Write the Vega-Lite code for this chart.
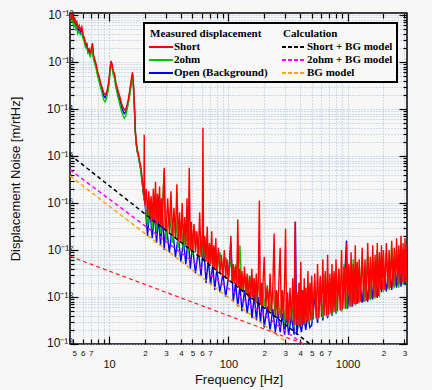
{
  "$schema": "https://vega.github.io/schema/vega-lite/v6.json",
  "width": 337,
  "height": 331,
  "autosize": "none",
  "padding": {"left": 70, "top": 13, "right": 25, "bottom": 46},
  "background": "#f7f7f7",
  "config": {
    "view": {"stroke": "#000000", "strokeWidth": 1.5},
    "axis": {"labelFont": "Liberation Sans", "titleFont": "Liberation Sans", "labelColor": "#111111", "titleColor": "#111111", "titleFontWeight": "normal", "domain": false, "tickColor": "#000000", "tickWidth": 1.2, "gridColor": "#a8bedb", "gridDash": [1, 2], "gridWidth": 1, "labelOverlap": false, "labelFlush": false}
  },
  "datasets": {
    "short": [
      {"f":4.75,"v":1.07e-12},{"f":4.85,"v":7.94e-13},{"f":4.95,"v":1.05e-12},{"f":5.05,"v":7.08e-13},{"f":5.15,"v":8.91e-13},{"f":5.25,"v":6.31e-13},{"f":5.35,"v":7.59e-13},{"f":5.45,"v":5.01e-13},{"f":5.6,"v":6.03e-13},{"f":5.75,"v":4.79e-13},{"f":5.9,"v":5.62e-13},{"f":6.05,"v":3.8e-13},{"f":6.2,"v":3.31e-13},{"f":6.35,"v":2.4e-13},{"f":6.5,"v":2.51e-13},{"f":6.65,"v":1.78e-13},{"f":6.8,"v":1.91e-13},{"f":6.95,"v":1.51e-13},{"f":7.1,"v":2.0e-13},{"f":7.25,"v":2.51e-13},{"f":7.4,"v":1.41e-13},{"f":7.6,"v":1.12e-13},{"f":7.8,"v":8.91e-14},{"f":8.0,"v":6.31e-14},{"f":8.25,"v":5.01e-14},{"f":8.5,"v":3.55e-14},{"f":8.75,"v":2.82e-14},{"f":9.0,"v":2.24e-14},{"f":9.25,"v":2.0e-14},{"f":9.5,"v":2.24e-14},{"f":9.75,"v":2.82e-14},{"f":10.0,"v":4.47e-14},{"f":10.2,"v":7.94e-14},{"f":10.4,"v":1.05e-13},{"f":10.6,"v":8.91e-14},{"f":10.85,"v":6.31e-14},{"f":11.1,"v":5.62e-14},{"f":11.4,"v":3.55e-14},{"f":11.7,"v":2.82e-14},{"f":12.0,"v":2.24e-14},{"f":12.35,"v":1.78e-14},{"f":12.7,"v":1.32e-14},{"f":13.0,"v":1.12e-14},{"f":13.4,"v":9.55e-15},{"f":13.8,"v":1.0e-14},{"f":14.2,"v":1.26e-14},{"f":14.6,"v":1.78e-14},{"f":15.0,"v":2.82e-14},{"f":15.4,"v":4.47e-14},{"f":15.7,"v":6.03e-14},{"f":16.0,"v":3.55e-14},{"f":16.3,"v":1.26e-14},{"f":16.6,"v":3.55e-15},{"f":16.9,"v":2.0e-15},{"f":17.2,"v":1.41e-15},{"f":17.6,"v":1.12e-15},{"f":18.0,"v":7.94e-16},{"f":18.4,"v":6.31e-16},{"f":18.8,"v":3.98e-16},{"f":19.2,"v":2.24e-16},{"f":19.6,"v":1.41e-16},{"f":19.7,"v":2.82e-15},{"f":19.85,"v":1.26e-16},
      {"f":20,"v":8.91e-17},{"f":20.5,"v":2.0e-16},{"f":21,"v":5.01e-17},{"f":21.5,"v":1.78e-16},{"f":22,"v":4.47e-17},{"f":22.5,"v":1.41e-16},{"f":23,"v":3.98e-17},{"f":23.5,"v":2.0e-16},{"f":24,"v":4.47e-17},{"f":24.5,"v":2.82e-16},{"f":25,"v":3.55e-17},{"f":25.5,"v":1.58e-16},{"f":26,"v":3.98e-17},{"f":26.5,"v":2.24e-16},{"f":27,"v":3.16e-17},{"f":27.5,"v":1.26e-16},{"f":28,"v":3.16e-17},{"f":28.5,"v":1.78e-16},{"f":29,"v":5.62e-16},{"f":29.5,"v":2.82e-17},
      {"f":30,"v":2.51e-17},{"f":31,"v":1.26e-16},{"f":32,"v":2.24e-17},{"f":33,"v":1.78e-16},{"f":34,"v":2.0e-17},{"f":35,"v":7.94e-17},{"f":36,"v":1.78e-17},{"f":37,"v":2.51e-16},{"f":38,"v":1.58e-17},{"f":39,"v":6.31e-17},{"f":40,"v":1.41e-17},{"f":41,"v":1.0e-16},{"f":42,"v":1.26e-17},{"f":43,"v":5.01e-17},{"f":44,"v":1.26e-17},{"f":45,"v":1.26e-16},{"f":46,"v":1.12e-17},{"f":47,"v":5.62e-16},{"f":48,"v":1.0e-17},{"f":49,"v":3.98e-17},
      {"f":50,"v":1.0e-17},{"f":51.5,"v":3.55e-17},{"f":53,"v":8.91e-18},{"f":54.5,"v":2.51e-17},{"f":56,"v":7.94e-18},{"f":57.5,"v":6.31e-17},{"f":59,"v":7.08e-18},{"f":60.5,"v":1.58e-17},{"f":61.2,"v":3.98e-15},{"f":62,"v":6.31e-18},{"f":63.5,"v":2.0e-17},{"f":65,"v":5.62e-18},{"f":66.5,"v":3.16e-17},{"f":68,"v":5.01e-18},{"f":69.5,"v":1.41e-17},{"f":71,"v":5.01e-18},{"f":72.5,"v":2.51e-17},{"f":74,"v":4.47e-18},{"f":75.5,"v":1.26e-17},{"f":77,"v":3.98e-18},{"f":78.5,"v":1.78e-17},
      {"f":80,"v":3.55e-18},{"f":82.5,"v":1.12e-17},{"f":85,"v":3.16e-18},{"f":87.5,"v":7.94e-18},{"f":90,"v":2.82e-18},{"f":92.5,"v":1.0e-17},{"f":95,"v":2.51e-18},{"f":97.5,"v":6.31e-18},{"f":100,"v":2.24e-18},{"f":102.5,"v":5.62e-18},{"f":105,"v":2.0e-17},{"f":107.5,"v":2.0e-18},{"f":110,"v":5.01e-18},{"f":112.5,"v":1.91e-18},{"f":115,"v":4.47e-18},{"f":117.5,"v":1.78e-18},{"f":120,"v":4.47e-17},{"f":122.5,"v":1.58e-18},{"f":125,"v":3.98e-18},{"f":127.5,"v":1.41e-18},
      {"f":130,"v":3.55e-18},{"f":133.5,"v":1.26e-18},{"f":136.5,"v":4.47e-18},{"f":140,"v":1.12e-18},{"f":143.5,"v":3.16e-18},{"f":147,"v":1.0e-18},{"f":150.5,"v":2.82e-18},{"f":154,"v":1.0e-18},{"f":157.5,"v":3.98e-18},{"f":161,"v":8.91e-19},{"f":164.5,"v":2.51e-18},{"f":168,"v":7.94e-19},{"f":171.5,"v":3.16e-18},{"f":175,"v":7.08e-19},{"f":178.5,"v":2.24e-18},{"f":182,"v":1.12e-16},{"f":185.5,"v":6.76e-19},{"f":189,"v":2.0e-18},{"f":192.5,"v":6.31e-19},{"f":196,"v":2.51e-18},
      {"f":200,"v":7.08e-18},{"f":206,"v":5.62e-19},{"f":212,"v":1.78e-18},{"f":218,"v":5.01e-19},{"f":224,"v":3.16e-18},{"f":230,"v":4.47e-19},{"f":236,"v":1.58e-18},{"f":242,"v":2.24e-17},{"f":248,"v":3.98e-19},{"f":254,"v":1.41e-18},{"f":260,"v":3.8e-19},{"f":266,"v":2.51e-18},{"f":272,"v":1.12e-17},{"f":278,"v":3.55e-19},{"f":284,"v":1.41e-18},{"f":290,"v":3.31e-19},{"f":296,"v":2.0e-18},{"f":302,"v":2.82e-17},{"f":308,"v":3.16e-19},{"f":314,"v":1.26e-18},
      {"f":320,"v":2.82e-19},{"f":329,"v":1.58e-18},{"f":338,"v":2.82e-19},{"f":347,"v":2.51e-18},{"f":356,"v":2.51e-19},{"f":363,"v":3.98e-17},{"f":370,"v":2.51e-19},{"f":377,"v":1.26e-18},{"f":384,"v":2.51e-19},{"f":391,"v":2.0e-18},{"f":398,"v":2.4e-19},{"f":405,"v":5.62e-18},{"f":412,"v":2.51e-19},{"f":419,"v":1.41e-18},{"f":426,"v":2.63e-19},{"f":433,"v":2.51e-18},{"f":440,"v":2.82e-19},{"f":447,"v":1.58e-18},{"f":456,"v":2.82e-19},{"f":465,"v":3.55e-18},{"f":474,"v":3.16e-19},{"f":483,"v":2.0e-18},{"f":492,"v":3.16e-19},
      {"f":500,"v":2.82e-18},{"f":515,"v":3.31e-19},{"f":530,"v":3.16e-18},{"f":545,"v":3.55e-19},{"f":560,"v":5.01e-18},{"f":575,"v":3.55e-19},{"f":590,"v":2.82e-18},{"f":605,"v":3.8e-19},{"f":620,"v":6.31e-18},{"f":635,"v":3.98e-19},{"f":650,"v":3.55e-18},{"f":665,"v":3.98e-19},{"f":680,"v":7.94e-18},{"f":695,"v":4.17e-19},{"f":710,"v":3.16e-18},{"f":725,"v":4.47e-19},{"f":740,"v":5.01e-18},{"f":755,"v":4.68e-19},{"f":770,"v":3.55e-18},{"f":785,"v":4.79e-19},
      {"f":800,"v":6.31e-18},{"f":822,"v":5.01e-19},{"f":845,"v":3.98e-18},{"f":867,"v":5.25e-19},{"f":890,"v":1.0e-17},{"f":912,"v":5.62e-19},{"f":935,"v":4.47e-18},{"f":957,"v":5.62e-19},{"f":980,"v":1.41e-17},{"f":1002,"v":6.31e-19},{"f":1025,"v":5.01e-18},{"f":1047,"v":6.31e-19},{"f":1070,"v":8.91e-18},{"f":1092,"v":6.61e-19},{"f":1115,"v":5.01e-18},{"f":1137,"v":7.08e-19},{"f":1160,"v":1.26e-17},{"f":1182,"v":7.08e-19},{"f":1205,"v":5.62e-18},{"f":1227,"v":7.59e-19},
      {"f":1250,"v":6.31e-18},{"f":1287,"v":7.94e-19},{"f":1325,"v":1.12e-17},{"f":1362,"v":7.94e-19},{"f":1400,"v":6.31e-18},{"f":1437,"v":8.32e-19},{"f":1475,"v":1.41e-17},{"f":1512,"v":8.91e-19},{"f":1550,"v":7.08e-18},{"f":1587,"v":9.33e-19},{"f":1625,"v":1.26e-17},{"f":1662,"v":1.0e-18},{"f":1700,"v":7.94e-18},{"f":1737,"v":1.0e-18},{"f":1775,"v":1.41e-17},{"f":1812,"v":1.05e-18},{"f":1850,"v":8.91e-18},{"f":1887,"v":1.41e-18},{"f":1925,"v":1.26e-17},{"f":1962,"v":1.41e-18},
      {"f":2000,"v":1.0e-17},{"f":2057,"v":1.41e-18},{"f":2115,"v":1.41e-17},{"f":2172,"v":1.51e-18},{"f":2230,"v":1.0e-17},{"f":2287,"v":1.58e-18},{"f":2345,"v":1.58e-17},{"f":2402,"v":1.66e-18},{"f":2460,"v":1.12e-17},{"f":2517,"v":1.74e-18},{"f":2575,"v":1.78e-17},{"f":2632,"v":1.78e-18},{"f":2690,"v":1.26e-17},{"f":2747,"v":1.91e-18},{"f":2805,"v":2.0e-17},{"f":2862,"v":2.0e-18},{"f":2920,"v":1.41e-17},{"f":2977,"v":2.0e-18},{"f":3035,"v":1.78e-17},{"f":3092,"v":2.09e-18},{"f":3150,"v":1.26e-17}
    ],
    "open": [
      {"f":4.75,"v":1.05e-12},{"f":4.85,"v":7.59e-13},{"f":4.95,"v":9.55e-13},{"f":5.05,"v":6.31e-13},{"f":5.15,"v":7.59e-13},{"f":5.25,"v":5.62e-13},{"f":5.35,"v":6.61e-13},{"f":5.45,"v":4.47e-13},{"f":5.6,"v":5.25e-13},{"f":5.75,"v":4.17e-13},{"f":5.9,"v":5.01e-13},{"f":6.05,"v":3.55e-13},{"f":6.2,"v":3.02e-13},{"f":6.35,"v":2.19e-13},{"f":6.5,"v":2.34e-13},{"f":6.65,"v":1.66e-13},{"f":6.8,"v":1.78e-13},{"f":6.95,"v":1.38e-13},{"f":7.1,"v":1.78e-13},{"f":7.25,"v":2.19e-13},{"f":7.4,"v":1.26e-13},{"f":7.6,"v":1.0e-13},{"f":7.8,"v":7.94e-14},{"f":8.0,"v":5.62e-14},{"f":8.25,"v":4.37e-14},{"f":8.5,"v":3.16e-14},{"f":8.75,"v":2.51e-14},{"f":9.0,"v":1.91e-14},{"f":9.25,"v":1.74e-14},{"f":9.5,"v":2.0e-14},{"f":9.75,"v":2.51e-14},{"f":10.0,"v":3.98e-14},{"f":10.2,"v":7.08e-14},{"f":10.4,"v":1.0e-13},{"f":10.6,"v":8.32e-14},{"f":10.85,"v":5.75e-14},{"f":11.1,"v":5.01e-14},{"f":11.4,"v":3.16e-14},{"f":11.7,"v":2.51e-14},{"f":12.0,"v":1.91e-14},{"f":12.35,"v":1.51e-14},{"f":12.7,"v":1.12e-14},{"f":13.0,"v":9.55e-15},{"f":13.4,"v":7.94e-15},{"f":13.8,"v":8.71e-15},{"f":14.2,"v":1.12e-14},{"f":14.6,"v":1.58e-14},{"f":15.0,"v":2.51e-14},{"f":15.4,"v":3.98e-14},{"f":15.7,"v":5.5e-14},{"f":16.0,"v":3.16e-14},{"f":16.3,"v":1.12e-14},{"f":16.6,"v":3.16e-15},{"f":16.9,"v":1.78e-15},{"f":17.2,"v":1.26e-15},{"f":17.6,"v":1.0e-15},{"f":18.0,"v":7.08e-16},{"f":18.4,"v":5.37e-16},{"f":18.8,"v":3.39e-16},{"f":19.2,"v":2.0e-16},{"f":19.6,"v":1.26e-16},{"f":19.85,"v":1.05e-16},
      {"f":20,"v":1.0e-16},{"f":21,"v":2.0e-17},{"f":22,"v":7.94e-17},{"f":23,"v":1.78e-17},{"f":24,"v":6.31e-17},{"f":25,"v":1.41e-17},{"f":26,"v":5.01e-17},{"f":27,"v":1.26e-17},{"f":28,"v":5.62e-17},{"f":29,"v":1.0e-17},
      {"f":30,"v":3.98e-17},{"f":32,"v":8.91e-18},{"f":34,"v":3.16e-17},{"f":36,"v":7.08e-18},{"f":38,"v":2.0e-17},{"f":40,"v":5.62e-18},{"f":42,"v":1.58e-17},{"f":44,"v":5.01e-18},{"f":46,"v":2.0e-17},{"f":48,"v":3.98e-18},
      {"f":50,"v":1.26e-17},{"f":53,"v":3.16e-18},{"f":56,"v":1.0e-17},{"f":59,"v":2.82e-18},{"f":62,"v":1.58e-17},{"f":65,"v":2.0e-18},{"f":68,"v":6.31e-18},{"f":71,"v":1.78e-18},{"f":74,"v":5.01e-18},{"f":77,"v":1.41e-18},
      {"f":80,"v":3.98e-18},{"f":85,"v":1.26e-18},{"f":90,"v":3.16e-18},{"f":95,"v":1.0e-18},{"f":100,"v":2.51e-18},{"f":105,"v":1.41e-17},{"f":110,"v":7.94e-19},{"f":115,"v":2.0e-18},{"f":120,"v":6.31e-19},{"f":125,"v":1.78e-18},
      {"f":130,"v":5.01e-19},{"f":137,"v":1.41e-18},{"f":144,"v":4.47e-19},{"f":151,"v":1.26e-18},{"f":158,"v":3.55e-19},{"f":165,"v":1.12e-18},{"f":172,"v":3.16e-19},{"f":179,"v":1.0e-18},{"f":186,"v":2.82e-19},{"f":193,"v":8.91e-19},
      {"f":200,"v":2.24e-19},{"f":212,"v":6.31e-19},{"f":224,"v":2.0e-19},{"f":236,"v":5.62e-19},{"f":248,"v":1.78e-19},{"f":260,"v":5.01e-19},{"f":272,"v":1.78e-19},{"f":284,"v":4.47e-19},{"f":296,"v":1.58e-19},{"f":308,"v":4.47e-19},
      {"f":320,"v":1.58e-19},{"f":338,"v":3.98e-19},{"f":356,"v":1.58e-19},{"f":365,"v":3.98e-17},{"f":374,"v":1.58e-19},{"f":392,"v":3.55e-19},{"f":410,"v":1.78e-19},{"f":428,"v":3.98e-19},{"f":446,"v":2.0e-19},{"f":464,"v":4.47e-19},{"f":482,"v":2.24e-19},
      {"f":500,"v":2.51e-19},{"f":530,"v":1.0e-18},{"f":560,"v":2.82e-19},{"f":590,"v":1.26e-18},{"f":620,"v":3.16e-19},{"f":650,"v":1.12e-18},{"f":680,"v":3.55e-19},{"f":710,"v":1.26e-18},{"f":740,"v":3.98e-19},{"f":770,"v":1.41e-18},
      {"f":800,"v":4.47e-19},{"f":845,"v":2.0e-18},{"f":890,"v":5.01e-19},{"f":935,"v":1.58e-18},{"f":980,"v":1.58e-17},{"f":1000,"v":5.62e-19},{"f":1050,"v":2.0e-18},{"f":1100,"v":6.31e-19},{"f":1150,"v":2.51e-18},{"f":1200,"v":7.08e-19},
      {"f":1250,"v":2.82e-18},{"f":1325,"v":7.59e-19},{"f":1400,"v":3.16e-18},{"f":1475,"v":7.94e-19},{"f":1550,"v":3.98e-18},{"f":1625,"v":8.91e-19},{"f":1700,"v":3.16e-18},{"f":1775,"v":9.55e-19},{"f":1850,"v":5.01e-18},{"f":1925,"v":1.26e-18},
      {"f":2000,"v":3.98e-18},{"f":2115,"v":1.32e-18},{"f":2230,"v":5.01e-18},{"f":2345,"v":1.41e-18},{"f":2460,"v":6.31e-18},{"f":2575,"v":1.58e-18},{"f":2690,"v":7.94e-18},{"f":2805,"v":1.66e-18},{"f":2920,"v":6.31e-18},{"f":3035,"v":1.78e-18},{"f":3150,"v":5.01e-18}
    ],
    "ohm": [
      {"f":4.75,"v":1.0e-12},{"f":4.85,"v":7.08e-13},{"f":4.95,"v":8.91e-13},{"f":5.05,"v":5.62e-13},{"f":5.15,"v":6.31e-13},{"f":5.25,"v":5.01e-13},{"f":5.35,"v":5.62e-13},{"f":5.45,"v":3.98e-13},{"f":5.6,"v":4.47e-13},{"f":5.75,"v":3.8e-13},{"f":5.9,"v":3.98e-13},{"f":6.05,"v":3.16e-13},{"f":6.2,"v":2.63e-13},{"f":6.35,"v":2.0e-13},{"f":6.5,"v":2.09e-13},{"f":6.65,"v":1.51e-13},{"f":6.8,"v":1.58e-13},{"f":6.95,"v":1.26e-13},{"f":7.1,"v":1.58e-13},{"f":7.25,"v":1.91e-13},{"f":7.4,"v":1.12e-13},{"f":7.6,"v":8.91e-14},{"f":7.8,"v":7.08e-14},{"f":8.0,"v":5.01e-14},{"f":8.25,"v":3.8e-14},{"f":8.5,"v":2.82e-14},{"f":8.75,"v":2.09e-14},{"f":9.0,"v":1.58e-14},{"f":9.25,"v":1.41e-14},{"f":9.5,"v":1.66e-14},{"f":9.75,"v":2.24e-14},{"f":10.0,"v":3.55e-14},{"f":10.2,"v":6.31e-14},{"f":10.4,"v":8.91e-14},{"f":10.6,"v":7.59e-14},{"f":10.85,"v":5.25e-14},{"f":11.1,"v":4.47e-14},{"f":11.4,"v":2.82e-14},{"f":11.7,"v":2.09e-14},{"f":12.0,"v":1.58e-14},{"f":12.35,"v":1.2e-14},{"f":12.7,"v":8.91e-15},{"f":13.0,"v":7.59e-15},{"f":13.4,"v":6.31e-15},{"f":13.8,"v":7.08e-15},{"f":14.2,"v":1.0e-14},{"f":14.6,"v":1.41e-14},{"f":15.0,"v":2.24e-14},{"f":15.4,"v":3.55e-14},{"f":15.7,"v":5.01e-14},{"f":16.0,"v":2.82e-14},{"f":16.3,"v":1.0e-14},{"f":16.6,"v":3.16e-15},{"f":16.9,"v":1.78e-15},{"f":17.2,"v":1.26e-15},{"f":17.6,"v":1.0e-15},{"f":18.0,"v":7.08e-16},{"f":18.4,"v":5.01e-16},{"f":18.8,"v":3.16e-16},{"f":19.2,"v":2.0e-16},{"f":19.6,"v":1.32e-16},{"f":19.85,"v":1.12e-16},
      {"f":20,"v":1.12e-16},{"f":21,"v":3.16e-17},{"f":22,"v":1.26e-16},{"f":23,"v":2.82e-17},{"f":24,"v":1.0e-16},{"f":25,"v":2.51e-17},{"f":26,"v":1.41e-16},{"f":27,"v":2.24e-17},{"f":28,"v":7.94e-17},{"f":29,"v":5.01e-16},
      {"f":30,"v":1.58e-17},{"f":32,"v":6.31e-17},{"f":34,"v":1.41e-17},{"f":36,"v":5.01e-17},{"f":38,"v":1.12e-17},{"f":40,"v":3.98e-17},{"f":42,"v":1.0e-17},{"f":44,"v":3.55e-17},{"f":46,"v":8.91e-18},{"f":48,"v":3.16e-17},
      {"f":50,"v":7.94e-18},{"f":53,"v":2.51e-17},{"f":56,"v":7.08e-18},{"f":59,"v":2.0e-17},{"f":62,"v":6.31e-18},{"f":65,"v":1.58e-17},{"f":68,"v":5.01e-18},{"f":71,"v":1.26e-17},{"f":74,"v":4.47e-18},{"f":77,"v":1.12e-17},
      {"f":80,"v":3.55e-18},{"f":85,"v":8.91e-18},{"f":90,"v":3.16e-18},{"f":95,"v":7.08e-18},{"f":100,"v":2.51e-18},{"f":105,"v":6.31e-18},{"f":110,"v":2.0e-18},{"f":115,"v":5.01e-18},{"f":120,"v":1.78e-18},{"f":125,"v":1.26e-17},
      {"f":130,"v":1.26e-18},{"f":137,"v":3.16e-18},{"f":144,"v":1.12e-18},{"f":151,"v":2.82e-18},{"f":158,"v":1.0e-18},{"f":165,"v":2.51e-18},{"f":172,"v":7.94e-19},{"f":179,"v":2.24e-18},{"f":186,"v":7.08e-19},{"f":193,"v":2.0e-18},
      {"f":200,"v":6.31e-19},{"f":212,"v":1.58e-18},{"f":224,"v":5.01e-19},{"f":236,"v":1.41e-18},{"f":248,"v":3.98e-19},{"f":260,"v":1.26e-18},{"f":272,"v":3.55e-19},{"f":284,"v":1.12e-18},{"f":296,"v":2.82e-19},{"f":308,"v":1.0e-18},
      {"f":320,"v":2.51e-19},{"f":338,"v":7.94e-19},{"f":356,"v":2.24e-19},{"f":374,"v":7.08e-19},{"f":392,"v":2.24e-19},{"f":410,"v":7.94e-19},{"f":428,"v":2.51e-19},{"f":446,"v":7.94e-19},{"f":464,"v":2.82e-19},{"f":482,"v":1.0e-18},
      {"f":500,"v":3.02e-19},{"f":530,"v":2.0e-18},{"f":560,"v":3.31e-19},{"f":590,"v":2.51e-18},{"f":620,"v":3.55e-19},{"f":650,"v":3.16e-18},{"f":680,"v":3.8e-19},{"f":710,"v":2.51e-18},{"f":740,"v":4.17e-19},{"f":770,"v":3.16e-18},
      {"f":800,"v":4.47e-19},{"f":845,"v":3.98e-18},{"f":890,"v":5.01e-19},{"f":935,"v":5.01e-18},{"f":980,"v":5.62e-19},{"f":1025,"v":4.47e-18},{"f":1070,"v":6.03e-19},{"f":1115,"v":6.31e-18},{"f":1160,"v":6.61e-19},{"f":1205,"v":5.01e-18},
      {"f":1250,"v":7.41e-19},{"f":1325,"v":6.31e-18},{"f":1400,"v":7.94e-19},{"f":1475,"v":7.94e-18},{"f":1550,"v":8.51e-19},{"f":1625,"v":7.08e-18},{"f":1700,"v":9.33e-19},{"f":1775,"v":1.0e-17},{"f":1850,"v":1.0e-18},{"f":1925,"v":7.94e-18},
      {"f":2000,"v":1.26e-18},{"f":2115,"v":8.91e-18},{"f":2230,"v":1.41e-18},{"f":2345,"v":1.12e-17},{"f":2460,"v":1.51e-18},{"f":2575,"v":1.0e-17},{"f":2690,"v":1.58e-18},{"f":2805,"v":1.26e-17},{"f":2920,"v":1.78e-18},{"f":3035,"v":1.12e-17},{"f":3150,"v":1.91e-18}
    ],
    "m_short": [{"f":4.7,"v":1.06e-15},{"f":483,"v":1.0e-19}],
    "m_ohm": [{"f":4.7,"v":5.1e-16},{"f":422,"v":1.0e-19}],
    "m_bg": [{"f":4.7,"v":3.76e-16},{"f":310,"v":1.07e-19}],
    "m_red": [{"f":4.7,"v":7.3e-18},{"f":433,"v":1.0e-19}]
  },
  "layer": [
    {
      "data": {"name": "open"},
      "mark": {"type": "line", "strokeWidth": 1.4, "clip": true},
      "encoding": {
        "x": {"field": "f", "type": "quantitative", "scale": {"type": "log", "domain": [4.7, 3150], "nice": false},
          "axis": {"orient": "bottom", "title": "Frequency [Hz]", "titleFontSize": 13, "titlePadding": 4,
            "values": [5,6,7,8,9,10,20,30,40,50,60,70,80,90,100,200,300,400,500,600,700,800,900,1000,2000,3000],
            "format": "d",
            "labelExpr": "indexof([10,100,1000], datum.value) >= 0 ? datum.label : (indexof([5,6,7,20,30,40,50,60,70,200,300,400,500,600,700,2000,3000], datum.value) >= 0 ? substring(datum.label, 0, 1) : '')",
            "labelFontSize": {"condition": {"test": "indexof([10,100,1000], datum.value) >= 0", "value": 11}, "value": 8},
            "labelPadding": {"condition": {"test": "indexof([10,100,1000], datum.value) >= 0", "value": 22}, "value": 10},
            "labelOffset": {"condition": {"test": "datum.value == 5", "value": 1}, "value": 0},
            "tickSize": {"condition": {"test": "indexof([10,100,1000], datum.value) >= 0", "value": -8}, "value": -5},
            "grid": true}},
        "y": {"field": "v", "type": "quantitative", "scale": {"type": "log", "domain": [1e-19, 1.1e-12], "nice": false},
          "axis": {"orient": "left", "title": "Displacement Noise [m/rtHz]", "titleFontSize": 13, "titlePadding": 24,
            "values": [1e-19,2e-19,3e-19,4e-19,5e-19,6e-19,7e-19,8e-19,9e-19,1e-18,2e-18,3e-18,4e-18,5e-18,6e-18,7e-18,8e-18,9e-18,1e-17,2e-17,3e-17,4e-17,5e-17,6e-17,7e-17,8e-17,9e-17,1e-16,2e-16,3e-16,4e-16,5e-16,6e-16,7e-16,8e-16,9e-16,1e-15,2e-15,3e-15,4e-15,5e-15,6e-15,7e-15,8e-15,9e-15,1e-14,2e-14,3e-14,4e-14,5e-14,6e-14,7e-14,8e-14,9e-14,1e-13,2e-13,3e-13,4e-13,5e-13,6e-13,7e-13,8e-13,9e-13,1e-12],
            "labelExpr": "abs(log(datum.value)/LN10 - round(log(datum.value)/LN10)) < 0.001 ? '10' + replace(replace(replace(replace(replace(replace(replace(replace(replace(replace('' + round(log(datum.value)/LN10), '-', '⁻'), '1', '¹'), '2', '²'), '3', '³'), '4', '⁴'), '5', '⁵'), '6', '⁶'), '7', '⁷'), '8', '⁸'), '9', '⁹') : ''",
            "labelFontSize": 12,
            "labelPadding": 5,
            "labelOffset": {"condition": {"test": "datum.value < 1.5e-19", "value": -2}, "value": 0},
            "tickSize": {"condition": {"test": "abs(log(datum.value)/LN10 - round(log(datum.value)/LN10)) < 0.001", "value": -8}, "value": -4},
            "grid": true}},
        "color": {"datum": "Open (Background)", "type": "nominal",
          "scale": {"domain": ["Measured displacement","Short","2ohm","Open (Background)","Calculation","Short + BG model","2ohm + BG model","BG model"], "range": ["rgba(0,0,0,0)","#ff0000","#00c800","#0000ff","rgba(0,0,0,0)","#000000","#ff00ff","#ffa500"]},
          "legend": {"orient": "none", "legendX": 74, "legendY": 10, "title": null, "columns": 2, "columnPadding": 10, "rowPadding": 1, "padding": 4,
            "strokeColor": "#000000", "fillColor": "#f9f9f9",
            "labelFont": "Liberation Serif", "labelFontWeight": "bold", "labelFontSize": 11, "labelColor": "#000000", "labelOffset": 12, "labelLimit": 300,
            "symbolType": "M-1,0L3,0", "symbolSize": 144, "symbolStrokeWidth": 2,
            "encode": {
              "legend": {"update": {"strokeWidth": {"value": 2}}},
              "symbols": {"update": {"strokeDash": {"signal": "indexof(['Short + BG model','2ohm + BG model','BG model'], datum.value) >= 0 ? [4,2] : []"}}},
              "labels": {"update": {"dx": {"signal": "datum.value == 'Measured displacement' || datum.value == 'Calculation' ? -24 : 0"}}}
            }}}
      }
    },
    {
      "data": {"name": "ohm"},
      "mark": {"type": "line", "strokeWidth": 1.4, "clip": true},
      "encoding": {
        "x": {"field": "f", "type": "quantitative", "scale": {"type": "log", "domain": [4.7, 3150], "nice": false}, "axis": null},
        "y": {"field": "v", "type": "quantitative", "scale": {"type": "log", "domain": [1e-19, 1.1e-12], "nice": false}, "axis": null},
        "color": {"datum": "2ohm", "type": "nominal"}
      }
    },
    {
      "data": {"name": "short"},
      "mark": {"type": "line", "strokeWidth": 1.4, "clip": true},
      "encoding": {
        "x": {"field": "f", "type": "quantitative", "scale": {"type": "log", "domain": [4.7, 3150], "nice": false}, "axis": null},
        "y": {"field": "v", "type": "quantitative", "scale": {"type": "log", "domain": [1e-19, 1.1e-12], "nice": false}, "axis": null},
        "color": {"datum": "Short", "type": "nominal"}
      }
    },
    {
      "data": {"name": "m_short"},
      "mark": {"type": "line", "strokeWidth": 1.5, "strokeDash": [4, 3], "clip": true},
      "encoding": {
        "x": {"field": "f", "type": "quantitative", "scale": {"type": "log", "domain": [4.7, 3150], "nice": false}, "axis": null},
        "y": {"field": "v", "type": "quantitative", "scale": {"type": "log", "domain": [1e-19, 1.1e-12], "nice": false}, "axis": null},
        "color": {"datum": "Short + BG model", "type": "nominal"}
      }
    },
    {
      "data": {"name": "m_ohm"},
      "mark": {"type": "line", "strokeWidth": 1.5, "strokeDash": [4, 3], "clip": true},
      "encoding": {
        "x": {"field": "f", "type": "quantitative", "scale": {"type": "log", "domain": [4.7, 3150], "nice": false}, "axis": null},
        "y": {"field": "v", "type": "quantitative", "scale": {"type": "log", "domain": [1e-19, 1.1e-12], "nice": false}, "axis": null},
        "color": {"datum": "2ohm + BG model", "type": "nominal"}
      }
    },
    {
      "data": {"name": "m_bg"},
      "mark": {"type": "line", "strokeWidth": 1.5, "strokeDash": [4, 3], "clip": true},
      "encoding": {
        "x": {"field": "f", "type": "quantitative", "scale": {"type": "log", "domain": [4.7, 3150], "nice": false}, "axis": null},
        "y": {"field": "v", "type": "quantitative", "scale": {"type": "log", "domain": [1e-19, 1.1e-12], "nice": false}, "axis": null},
        "color": {"datum": "BG model", "type": "nominal"}
      }
    },
    {
      "data": {"name": "m_red"},
      "mark": {"type": "line", "strokeWidth": 1.2, "strokeDash": [4, 3], "color": "#ff2020", "clip": true},
      "encoding": {
        "x": {"field": "f", "type": "quantitative", "scale": {"type": "log", "domain": [4.7, 3150], "nice": false}, "axis": null},
        "y": {"field": "v", "type": "quantitative", "scale": {"type": "log", "domain": [1e-19, 1.1e-12], "nice": false}, "axis": null}
      }
    },
    {
      "data": {"name": "m_red"},
      "mark": {"type": "line", "opacity": 0, "clip": true},
      "encoding": {
        "x": {"field": "f", "type": "quantitative", "scale": {"type": "log", "domain": [4.7, 3150], "nice": false},
          "axis": {"orient": "top", "title": null, "labels": false, "grid": false,
            "values": [5,6,7,8,9,10,20,30,40,50,60,70,80,90,100,200,300,400,500,600,700,800,900,1000,2000,3000],
            "tickSize": {"condition": {"test": "indexof([10,100,1000], datum.value) >= 0", "value": -8}, "value": -5}}},
        "y": {"field": "v", "type": "quantitative", "scale": {"type": "log", "domain": [1e-19, 1.1e-12], "nice": false},
          "axis": {"orient": "right", "title": null, "labels": false, "grid": false,
            "values": [1e-19,2e-19,3e-19,4e-19,5e-19,6e-19,7e-19,8e-19,9e-19,1e-18,2e-18,3e-18,4e-18,5e-18,6e-18,7e-18,8e-18,9e-18,1e-17,2e-17,3e-17,4e-17,5e-17,6e-17,7e-17,8e-17,9e-17,1e-16,2e-16,3e-16,4e-16,5e-16,6e-16,7e-16,8e-16,9e-16,1e-15,2e-15,3e-15,4e-15,5e-15,6e-15,7e-15,8e-15,9e-15,1e-14,2e-14,3e-14,4e-14,5e-14,6e-14,7e-14,8e-14,9e-14,1e-13,2e-13,3e-13,4e-13,5e-13,6e-13,7e-13,8e-13,9e-13,1e-12],
            "tickSize": {"condition": {"test": "abs(log(datum.value)/LN10 - round(log(datum.value)/LN10)) < 0.001", "value": -8}, "value": -4}}}
      }
    }
  ],
  "resolve": {"axis": {"x": "independent", "y": "independent"}}
}
